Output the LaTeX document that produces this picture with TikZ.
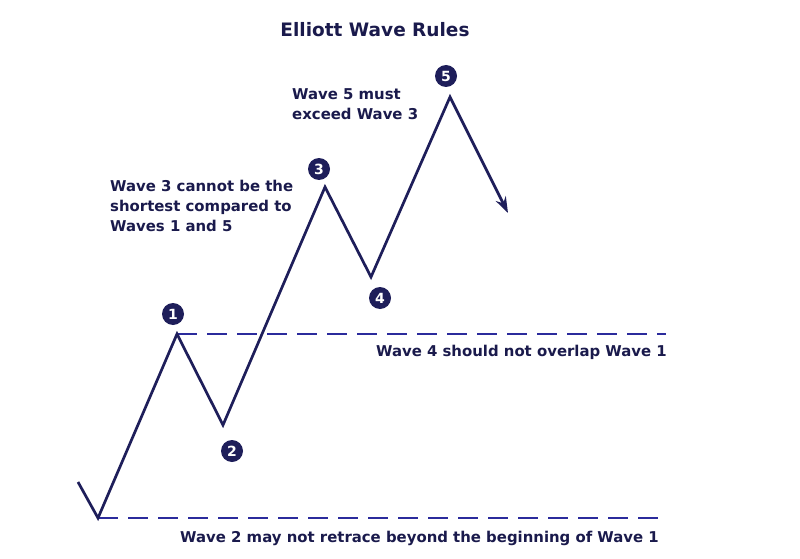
\documentclass[tikz,border=0pt]{standalone}
\usepackage{fontspec}
\setmainfont{DejaVu Sans}
\usetikzlibrary{arrows.meta}
\definecolor{navy}{HTML}{1E1E5A}
\definecolor{dashblue}{HTML}{2B2B9C}
\definecolor{txt}{HTML}{1A1A4C}
\begin{document}
\begin{tikzpicture}[x=1pt,y=-1pt,
  wave/.style={draw=navy,line width=2.7pt,line join=miter},
  rule/.style={draw=dashblue,line width=2.5pt,dash pattern=on 20pt off 10pt},
  num/.style={circle,fill=navy,text=white,inner sep=0pt,minimum size=22pt,font=\bfseries\fontsize{14}{14}\selectfont},
  lbl/.style={text=txt,font=\bfseries\fontsize{14.9}{20}\selectfont,inner sep=0pt,align=left},
  title/.style={text=txt,font=\fontsize{18.5}{20}\selectfont\bfseries,inner sep=0pt}]
\useasboundingbox[fill=white] (0,0) rectangle (800,559);
% wave points
\coordinate (s) at (78,482);
\coordinate (p0) at (98,518);
\coordinate (p1) at (177,334);
\coordinate (p2) at (223,425);
\coordinate (p3) at (325,187);
\coordinate (p4) at (371,277);
\coordinate (p5) at (450,97);
\coordinate (e) at (508,213);
\coordinate (r1) at (666,334);
\coordinate (r0) at (666,518);
% dashed rules
\draw[rule] (p1) -- (r1);
\draw[rule] (p0) -- (r0);
% wave
\draw[wave,-{Stealth[length=16pt,width=11pt]}] (s) -- (p0) -- (p1) -- (p2) -- (p3) -- (p4) -- (p5) -- (e);
% numbers
\node[num] (n1) at (173,314) {1};
\node[num] (n2) at (232,451) {2};
\node[num] (n3) at (319,169) {3};
\node[num] (n4) at (380,298) {4};
\node[num] (n5) at (446,76) {5};
% texts
\node[title] (t) at (375,30) {Elliott Wave Rules};
\node[lbl,anchor=west] (l5) at (292,104) {Wave 5 must\\exceed Wave 3};
\node[lbl,anchor=west] (l3) at (110,206) {Wave 3 cannot be the\\shortest compared to\\Waves 1 and 5};
\node[lbl,anchor=east] (l4) at (667,352) {Wave 4 should not overlap Wave 1};
\node[lbl,anchor=east] (l2) at (659,538) {Wave 2 may not retrace beyond the beginning of Wave 1};
\end{tikzpicture}
\end{document}
